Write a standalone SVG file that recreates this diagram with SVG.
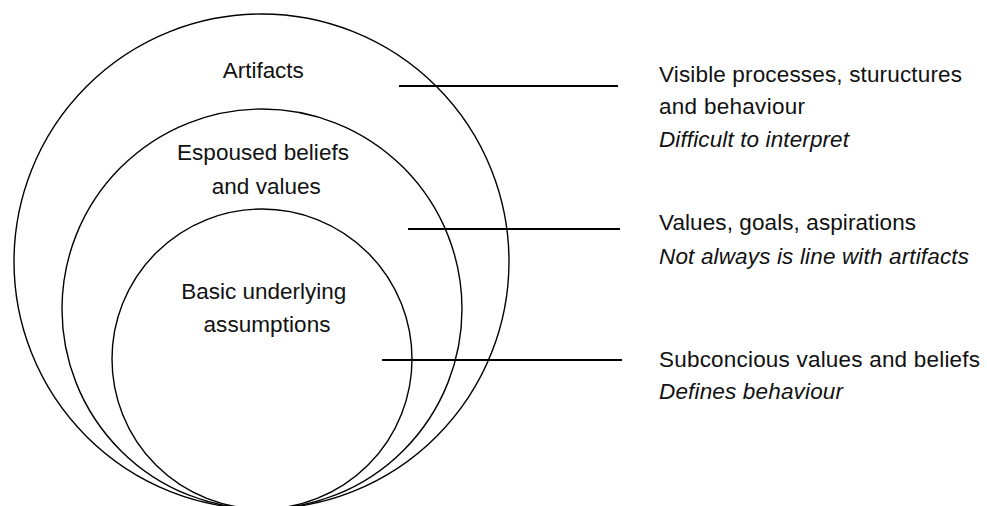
<svg xmlns="http://www.w3.org/2000/svg" width="987" height="506" viewBox="0 0 987 506">
  <style>
    .ring { fill: none; stroke: #000; stroke-width: 1.4; }
    .lead { stroke: #000; stroke-width: 2.2; }
    text { font-family: "Liberation Sans", Arial, sans-serif; font-size: 22.5px; fill: #111; }
    .note { font-style: italic; }
  </style>
  <rect width="987" height="506" fill="#fff"/>

  <!-- Nested culture levels -->
  <g id="artifacts">
    <circle class="ring" cx="261.5" cy="261.5" r="247.5"/>
    <text x="263.3" y="77.5" text-anchor="middle" textLength="81">Artifacts</text>
  </g>
  <g id="espoused">
    <circle class="ring" cx="262" cy="309" r="200"/>
    <text x="263" y="159.5" text-anchor="middle" textLength="172">Espoused beliefs</text>
    <text x="266.3" y="194" text-anchor="middle" textLength="109">and values</text>
  </g>
  <g id="assumptions">
    <circle class="ring" cx="262" cy="359" r="150"/>
    <text x="263.8" y="298.5" text-anchor="middle" textLength="165">Basic underlying</text>
    <text x="267" y="332" text-anchor="middle" textLength="127">assumptions</text>
  </g>

  <!-- Leader lines -->
  <g id="connectors">
    <line class="lead" x1="399" y1="86" x2="618" y2="86"/>
    <line class="lead" x1="408" y1="229" x2="620" y2="229"/>
    <line class="lead" x1="382" y1="360" x2="622" y2="360"/>
  </g>

  <!-- Descriptions -->
  <g id="desc-artifacts">
    <text x="659" y="82" textLength="303">Visible processes, stuructures</text>
    <text x="659" y="114" textLength="146">and behaviour</text>
    <text class="note" x="659" y="147" textLength="190">Difficult to interpret</text>
  </g>
  <g id="desc-espoused">
    <text x="659" y="230" textLength="257">Values, goals, aspirations</text>
    <text class="note" x="659" y="263.5" textLength="310">Not always is line with artifacts</text>
  </g>
  <g id="desc-assumptions">
    <text x="659" y="366.5" textLength="321">Subconcious values and beliefs</text>
    <text class="note" x="659" y="399" textLength="184">Defines behaviour</text>
  </g>
</svg>
